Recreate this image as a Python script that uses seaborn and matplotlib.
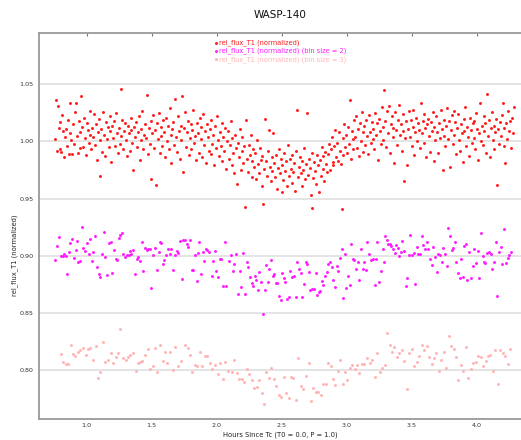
import pandas as pd
from matplotlib import pyplot as plt
import seaborn as sns

# rel_flux_T1 (normalized), one point per exposure
red_x = [
    0.756, 0.763, 0.770, 0.777, 0.784, 0.791, 0.798, 0.805, 0.812, 0.819,
    0.826, 0.833, 0.840, 0.847, 0.854, 0.861, 0.868, 0.875, 0.882, 0.889,
    0.896, 0.903, 0.910, 0.917, 0.924, 0.931, 0.938, 0.945, 0.952, 0.959,
    0.966, 0.973, 0.980, 0.987, 0.994, 1.001, 1.008, 1.015, 1.022, 1.029,
    1.036, 1.043, 1.050, 1.057, 1.064, 1.071, 1.078, 1.085, 1.092, 1.099,
    1.106, 1.113, 1.120, 1.127, 1.134, 1.141, 1.148, 1.155, 1.162, 1.169,
    1.176, 1.183, 1.190, 1.197, 1.204, 1.211, 1.218, 1.225, 1.232, 1.239,
    1.246, 1.253, 1.260, 1.267, 1.274, 1.281, 1.288, 1.295, 1.302, 1.309,
    1.316, 1.323, 1.330, 1.337, 1.344, 1.351, 1.358, 1.365, 1.372, 1.379,
    1.386, 1.393, 1.400, 1.407, 1.414, 1.421, 1.428, 1.435, 1.442, 1.449,
    1.456, 1.463, 1.470, 1.477, 1.484, 1.491, 1.498, 1.505, 1.512, 1.519,
    1.526, 1.533, 1.540, 1.547, 1.554, 1.561, 1.568, 1.575, 1.582, 1.589,
    1.596, 1.603, 1.610, 1.617, 1.624, 1.631, 1.638, 1.645, 1.652, 1.659,
    1.666, 1.673, 1.680, 1.687, 1.694, 1.701, 1.708, 1.715, 1.722, 1.729,
    1.736, 1.743, 1.750, 1.757, 1.764, 1.771, 1.778, 1.785, 1.792, 1.799,
    1.806, 1.813, 1.820, 1.827, 1.834, 1.841, 1.848, 1.855, 1.862, 1.869,
    1.876, 1.883, 1.890, 1.897, 1.904, 1.911, 1.918, 1.925, 1.932, 1.939,
    1.946, 1.953, 1.960, 1.967, 1.974, 1.981, 1.988, 1.995, 2.002, 2.009,
    2.016, 2.023, 2.030, 2.037, 2.044, 2.051, 2.058, 2.065, 2.072, 2.079,
    2.086, 2.093, 2.100, 2.107, 2.114, 2.121, 2.128, 2.135, 2.142, 2.149,
    2.156, 2.163, 2.170, 2.177, 2.184, 2.191, 2.198, 2.205, 2.212, 2.219,
    2.226, 2.233, 2.240, 2.247, 2.254, 2.261, 2.268, 2.275, 2.282, 2.289,
    2.296, 2.303, 2.310, 2.317, 2.324, 2.331, 2.338, 2.345, 2.352, 2.359,
    2.366, 2.373, 2.380, 2.387, 2.394, 2.401, 2.408, 2.415, 2.422, 2.429,
    2.436, 2.443, 2.450, 2.457, 2.464, 2.471, 2.478, 2.485, 2.492, 2.499,
    2.506, 2.513, 2.520, 2.527, 2.534, 2.541, 2.548, 2.555, 2.562, 2.569,
    2.576, 2.583, 2.590, 2.597, 2.604, 2.611, 2.618, 2.625, 2.632, 2.639,
    2.646, 2.653, 2.660, 2.667, 2.674, 2.681, 2.688, 2.695, 2.702, 2.709,
    2.716, 2.723, 2.730, 2.737, 2.744, 2.751, 2.758, 2.765, 2.772, 2.779,
    2.786, 2.793, 2.800, 2.807, 2.814, 2.821, 2.828, 2.835, 2.842, 2.849,
    2.856, 2.863, 2.870, 2.877, 2.884, 2.891, 2.898, 2.905, 2.912, 2.919,
    2.926, 2.933, 2.940, 2.947, 2.954, 2.961, 2.968, 2.975, 2.982, 2.989,
    2.996, 3.003, 3.010, 3.017, 3.024, 3.031, 3.038, 3.045, 3.052, 3.059,
    3.066, 3.073, 3.080, 3.087, 3.094, 3.101, 3.108, 3.115, 3.122, 3.129,
    3.136, 3.143, 3.150, 3.157, 3.164, 3.171, 3.178, 3.185, 3.192, 3.199,
    3.206, 3.213, 3.220, 3.227, 3.234, 3.241, 3.248, 3.255, 3.262, 3.269,
    3.276, 3.283, 3.290, 3.297, 3.304, 3.311, 3.318, 3.325, 3.332, 3.339,
    3.346, 3.353, 3.360, 3.367, 3.374, 3.381, 3.388, 3.395, 3.402, 3.409,
    3.416, 3.423, 3.430, 3.437, 3.444, 3.451, 3.458, 3.465, 3.472, 3.479,
    3.486, 3.493, 3.500, 3.507, 3.514, 3.521, 3.528, 3.535, 3.542, 3.549,
    3.556, 3.563, 3.570, 3.577, 3.584, 3.591, 3.598, 3.605, 3.612, 3.619,
    3.626, 3.633, 3.640, 3.647, 3.654, 3.661, 3.668, 3.675, 3.682, 3.689,
    3.696, 3.703, 3.710, 3.717, 3.724, 3.731, 3.738, 3.745, 3.752, 3.759,
    3.766, 3.773, 3.780, 3.787, 3.794, 3.801, 3.808, 3.815, 3.822, 3.829,
    3.836, 3.843, 3.850, 3.857, 3.864, 3.871, 3.878, 3.885, 3.892, 3.899,
    3.906, 3.913, 3.920, 3.927, 3.934, 3.941, 3.948, 3.955, 3.962, 3.969,
    3.976, 3.983, 3.990, 3.997, 4.004, 4.011, 4.018, 4.025, 4.032, 4.039,
    4.046, 4.053, 4.060, 4.067, 4.074, 4.081, 4.088, 4.095, 4.102, 4.109,
    4.116, 4.123, 4.130, 4.137, 4.144, 4.151, 4.158, 4.165, 4.172, 4.179,
    4.186, 4.193, 4.200, 4.207, 4.214, 4.221, 4.228, 4.235, 4.242, 4.249,
    4.256, 4.263, 4.270, 4.277, 4.284,
]
red_y = [
    1.002, 1.036, 0.992, 1.031, 1.012, 0.993, 1.017, 0.991, 1.023, 1.009,
    0.986, 1.004, 1.011, 0.996, 1.019, 0.989, 1.007, 1.034, 1.001, 0.989,
    1.015, 0.998, 1.026, 1.034, 1.005, 0.990, 1.018, 1.008, 0.994, 1.040,
    1.013, 0.995, 1.021, 1.003, 0.988, 1.016, 1.010, 0.999, 1.027, 1.006,
    0.993, 1.012, 1.004, 1.024, 0.997, 1.015, 0.984, 1.008, 1.020, 1.001,
    0.970, 1.011, 0.991, 1.026, 1.006, 0.987, 1.017, 1.002, 1.013, 0.995,
    1.022, 1.009, 0.982, 1.014, 1.003, 1.018, 0.996, 1.025, 1.007, 0.990,
    1.012, 0.998, 1.046, 1.005, 1.019, 0.993, 1.009, 1.016, 1.001, 0.987,
    1.014, 1.007, 0.992, 1.021, 1.010, 0.999, 0.975, 1.013, 1.004, 1.017,
    0.995, 1.008, 1.022, 0.984, 1.011, 1.001, 1.027, 0.993, 1.006, 1.015,
    1.003, 1.041, 0.989, 1.012, 0.998, 1.018, 0.967, 1.007, 1.023, 0.994,
    1.010, 0.962, 1.016, 1.002, 1.025, 0.990, 1.013, 1.005, 0.996, 1.019,
    1.008, 0.986, 1.021, 1.000, 1.014, 0.993, 1.029, 1.006, 0.981, 1.011,
    1.017, 0.997, 1.037, 1.004, 0.991, 1.022, 1.009, 0.985, 1.014, 1.001,
    1.040, 0.973, 1.012, 1.026, 0.995, 1.008, 1.018, 0.988, 1.003, 1.015,
    0.993, 1.010, 1.028, 0.999, 1.005, 0.984, 1.016, 1.007, 0.990, 1.021,
    1.002, 1.013, 0.986, 1.024, 0.997, 1.009, 0.981, 1.015, 1.004, 0.992,
    1.011, 0.989, 1.019, 0.998, 1.006, 0.979, 1.014, 0.994, 1.022, 1.001,
    0.987, 1.008, 0.996, 1.016, 0.983, 1.004, 0.992, 1.012, 0.976, 1.000,
    1.009, 0.985, 0.997, 1.018, 0.979, 1.003, 0.990, 0.972, 1.006, 0.994,
    0.963, 0.999, 0.986, 1.011, 0.975, 0.992, 1.004, 0.981, 0.996, 0.943,
    1.019, 0.985, 0.973, 0.997, 0.988, 1.006, 0.969, 0.983, 0.993, 0.978,
    0.990, 0.967, 1.001, 0.980, 0.972, 0.994, 0.984, 0.961, 0.987, 0.945,
    0.976, 1.020, 0.983, 0.970, 0.992, 1.010, 0.978, 0.965, 0.986, 0.974,
    1.007, 0.981, 0.969, 0.988, 0.958, 0.977, 0.993, 0.972, 0.985, 0.956,
    0.979, 0.966, 0.990, 0.974, 0.983, 0.961, 0.997, 0.970, 0.985, 0.976,
    0.964, 0.988, 0.973, 0.981, 0.957, 0.992, 1.028, 0.969, 0.978, 0.986,
    0.972, 0.961, 0.983, 0.975, 0.994, 0.967, 0.980, 1.025, 0.971, 0.985,
    0.977, 0.953, 0.990, 0.942, 0.968, 0.982, 0.974, 0.963, 0.988, 0.979,
    0.956, 0.984, 0.970, 0.995, 0.976, 0.987, 0.965, 0.991, 0.980, 0.973,
    0.989, 0.998, 0.975, 0.993, 1.004, 0.982, 0.979, 0.996, 1.010, 0.986,
    0.999, 0.983, 1.008, 0.992, 0.980, 0.941, 1.003, 0.988, 1.015, 0.995,
    1.006, 0.990, 1.013, 0.998, 1.036, 0.985, 1.009, 1.002, 0.993, 1.019,
    1.004, 1.022, 0.994, 1.011, 0.987, 1.016, 1.000, 1.026, 0.991, 1.008,
    1.014, 0.997, 1.019, 1.005, 0.989, 1.023, 1.008, 0.999, 1.017, 1.002,
    1.011, 0.993, 1.025, 1.006, 1.016, 0.984, 1.020, 1.009, 0.998, 1.030,
    1.013, 1.001, 1.045, 1.018, 0.995, 1.027, 1.007, 1.031, 0.990, 1.015,
    1.022, 1.004, 1.012, 0.981, 1.026, 1.010, 0.997, 1.019, 1.032, 1.006,
    1.015, 0.992, 1.009, 1.024, 0.965, 1.003, 1.018, 0.979, 1.011, 1.027,
    1.004, 1.019, 0.996, 1.013, 1.028, 0.988, 1.008, 1.021, 1.000, 1.016,
    1.010, 0.994, 1.034, 1.007, 1.018, 0.999, 1.024, 1.012, 0.986, 1.015,
    1.020, 1.005, 0.991, 1.017, 1.009, 1.026, 0.983, 1.013, 1.001, 1.022,
    1.008, 0.990, 1.016, 1.003, 1.028, 1.011, 0.975, 1.019, 1.005, 0.996,
    1.014, 1.029, 1.002, 1.018, 0.978, 1.010, 1.023, 0.998, 1.027, 1.006,
    1.017, 0.989, 1.012, 1.024, 1.001, 0.992, 1.015, 1.007, 0.982, 1.020,
    1.009, 1.030, 0.996, 1.013, 1.004, 0.987, 1.021, 1.010, 0.999, 1.016,
    1.003, 1.018, 0.993, 1.025, 1.011, 0.984, 1.007, 1.034, 1.000, 1.014,
    0.997, 1.022, 1.009, 1.016, 0.990, 1.042, 1.005, 1.019, 0.986, 1.012,
    1.026, 1.001, 1.014, 0.993, 1.008, 1.020, 0.962, 1.011, 0.998, 1.017,
    1.005, 1.023, 1.034, 0.996, 1.012, 0.981, 1.016, 1.002, 1.027, 1.009,
    1.018, 0.994, 1.021, 1.007, 1.030,
]

# bin size = 2 (shifted by -0.1 in the plot)
mag_x = [
    0.759, 0.772, 0.785, 0.800, 0.815, 0.826, 0.838, 0.846, 0.862, 0.874,
    0.890, 0.903, 0.915, 0.928, 0.936, 0.949, 0.962, 0.974, 0.990, 1.003,
    1.015, 1.028, 1.038, 1.051, 1.067, 1.079, 1.095, 1.103, 1.115, 1.131,
    1.144, 1.154, 1.169, 1.185, 1.197, 1.208, 1.223, 1.236, 1.249, 1.259,
    1.272, 1.282, 1.297, 1.308, 1.323, 1.336, 1.341, 1.359, 1.374, 1.385,
    1.397, 1.410, 1.423, 1.436, 1.449, 1.462, 1.472, 1.487, 1.497, 1.513,
    1.523, 1.538, 1.554, 1.562, 1.574, 1.585, 1.597, 1.610, 1.623, 1.638,
    1.651, 1.667, 1.679, 1.692, 1.705, 1.718, 1.731, 1.744, 1.756, 1.769,
    1.782, 1.792, 1.808, 1.815, 1.833, 1.846, 1.856, 1.867, 1.879, 1.892,
    1.905, 1.918, 1.928, 1.941, 1.962, 1.972, 1.987, 1.997, 2.010, 2.023,
    2.033, 2.049, 2.064, 2.074, 2.092, 2.110, 2.123, 2.136, 2.151, 2.167,
    2.179, 2.190, 2.203, 2.218, 2.231, 2.241, 2.254, 2.269, 2.279, 2.295,
    2.305, 2.318, 2.328, 2.341, 2.356, 2.369, 2.379, 2.392, 2.403, 2.418,
    2.431, 2.441, 2.454, 2.467, 2.477, 2.492, 2.505, 2.518, 2.528, 2.541,
    2.554, 2.561, 2.582, 2.595, 2.608, 2.620, 2.631, 2.646, 2.659, 2.672,
    2.684, 2.697, 2.713, 2.718, 2.731, 2.749, 2.761, 2.774, 2.784, 2.795,
    2.808, 2.820, 2.836, 2.849, 2.859, 2.872, 2.884, 2.897, 2.910, 2.923,
    2.936, 2.949, 2.961, 2.974, 2.987, 2.997, 3.010, 3.023, 3.036, 3.046,
    3.056, 3.072, 3.084, 3.097, 3.110, 3.123, 3.133, 3.149, 3.159, 3.174,
    3.187, 3.200, 3.215, 3.228, 3.236, 3.251, 3.264, 3.277, 3.290, 3.297,
    3.307, 3.320, 3.331, 3.343, 3.359, 3.372, 3.382, 3.395, 3.405, 3.418,
    3.428, 3.441, 3.454, 3.466, 3.477, 3.490, 3.502, 3.515, 3.528, 3.538,
    3.551, 3.564, 3.579, 3.590, 3.602, 3.615, 3.628, 3.641, 3.654, 3.666,
    3.679, 3.692, 3.705, 3.718, 3.731, 3.743, 3.756, 3.769, 3.782, 3.795,
    3.807, 3.818, 3.833, 3.843, 3.856, 3.869, 3.882, 3.892, 3.902, 3.915,
    3.928, 3.943, 3.956, 3.969, 3.982, 3.995, 4.007, 4.020, 4.033, 4.046,
    4.059, 4.066, 4.082, 4.095, 4.107, 4.120, 4.131, 4.146, 4.159, 4.172,
    4.184, 4.197, 4.210, 4.225, 4.238, 4.251, 4.261,
]
mag_y = [
    0.8960, 0.9087, 0.9166, 0.9000, 0.9000, 0.9015, 0.8994, 0.8842, 0.9029, 0.9108,
    0.9149, 0.8977, 0.9050, 0.9128, 0.8947, 0.8950, 0.9251, 0.9064, 0.9041, 0.9114,
    0.9015, 0.9146, 0.8950, 0.9029, 0.9175, 0.8901, 0.8839, 0.8816, 0.9018, 0.9210,
    0.8991, 0.8831, 0.9114, 0.9117, 0.8848, 0.9053, 0.8971, 0.8959, 0.9152, 0.9184,
    0.9201, 0.9018, 0.8988, 0.9009, 0.9009, 0.9041, 0.9018, 0.9047, 0.8836, 0.8971,
    0.8991, 0.8953, 0.9120, 0.8863, 0.9064, 0.9047, 0.9055, 0.9058, 0.8720, 0.9006,
    0.9064, 0.8872, 0.9035, 0.9120, 0.9108, 0.8927, 0.8965, 0.9009, 0.9058, 0.9015,
    0.9058, 0.8874, 0.9003, 0.9041, 0.9020, 0.9126, 0.8796, 0.9134, 0.9137, 0.9099,
    0.9079, 0.9134, 0.8874, 0.8874, 0.9006, 0.8775, 0.9020, 0.9123, 0.8842, 0.9032,
    0.8956, 0.9061, 0.9053, 0.9035, 0.8819, 0.8950, 0.9038, 0.8866, 0.8810, 0.8968,
    0.8971, 0.8734, 0.9117, 0.8734, 0.8950, 0.9003, 0.8863, 0.8930, 0.9018, 0.8661,
    0.8863, 0.8726, 0.9020, 0.8667, 0.8942, 0.8901, 0.8813, 0.8761, 0.8731, 0.8825,
    0.8784, 0.8699, 0.8857, 0.8766, 0.8489, 0.8696, 0.8921, 0.8772, 0.8886, 0.8962,
    0.8825, 0.8839, 0.8761, 0.8758, 0.8650, 0.8615, 0.8848, 0.8804, 0.8769, 0.8620,
    0.8635, 0.8869, 0.8816, 0.8822, 0.8638, 0.8942, 0.8886, 0.8848, 0.8638, 0.8755,
    0.8947, 0.8930, 0.8854, 0.8702, 0.8705, 0.8708, 0.8848, 0.8658, 0.8685, 0.8688,
    0.8778, 0.8740, 0.8822, 0.8857, 0.8930, 0.8942, 0.8901, 0.8787, 0.8726, 0.8912,
    0.8863, 0.8977, 0.9058, 0.8626, 0.9015, 0.8714, 0.8822, 0.8743, 0.9099, 0.8974,
    0.8962, 0.8880, 0.8942, 0.8790, 0.9055, 0.8880, 0.8942, 0.8877, 0.9123, 0.9015,
    0.8965, 0.8971, 0.8743, 0.8971, 0.9120, 0.8772, 0.8869, 0.9061, 0.8942, 0.9175,
    0.9137, 0.9105, 0.9099, 0.9088, 0.9058, 0.9023, 0.9093, 0.9067, 0.8994, 0.9035,
    0.9128, 0.9041, 0.8731, 0.8801, 0.9006, 0.9184, 0.9009, 0.9026, 0.8749, 0.9079,
    0.9018, 0.9012, 0.9175, 0.9091, 0.9055, 0.9123, 0.9061, 0.8974, 0.8915, 0.9076,
    0.8988, 0.8860, 0.9018, 0.9009, 0.8947, 0.9064, 0.9012, 0.8909, 0.9239, 0.9172,
    0.9053, 0.9070, 0.9120, 0.8947, 0.8848, 0.8804, 0.8974, 0.8810, 0.9085, 0.9099,
    0.8787, 0.9029, 0.8807, 0.8907, 0.9058, 0.8936, 0.9044, 0.8804, 0.9199, 0.8994,
    0.8942, 0.8939, 0.9023, 0.9035, 0.9018, 0.8886, 0.8942, 0.9120, 0.8644, 0.9035,
    0.9079, 0.8930, 0.9234, 0.8933, 0.8982, 0.9009, 0.9032,
]

# bin size = 3 (shifted by -0.2 in the plot)
pink_x = [
    0.803, 0.821, 0.838, 0.856, 0.879, 0.895, 0.913, 0.933, 0.951, 0.969,
    0.995, 1.013, 1.028, 1.046, 1.069, 1.090, 1.105, 1.123, 1.144, 1.167,
    1.187, 1.205, 1.223, 1.241, 1.259, 1.282, 1.303, 1.321, 1.336, 1.354,
    1.377, 1.395, 1.410, 1.428, 1.451, 1.469, 1.487, 1.510, 1.528, 1.544,
    1.564, 1.587, 1.605, 1.620, 1.644, 1.664, 1.682, 1.700, 1.723, 1.759,
    1.779, 1.795, 1.813, 1.833, 1.851, 1.872, 1.890, 1.908, 1.926, 1.946,
    1.967, 1.985, 2.010, 2.028, 2.046, 2.067, 2.085, 2.115, 2.133, 2.154,
    2.174, 2.195, 2.213, 2.231, 2.249, 2.269, 2.290, 2.308, 2.328, 2.346,
    2.364, 2.382, 2.400, 2.420, 2.441, 2.459, 2.477, 2.497, 2.515, 2.536,
    2.554, 2.572, 2.590, 2.610, 2.628, 2.646, 2.667, 2.687, 2.708, 2.726,
    2.744, 2.764, 2.782, 2.800, 2.818, 2.838, 2.859, 2.877, 2.895, 2.913,
    2.933, 2.951, 2.969, 2.987, 3.005, 3.026, 3.044, 3.062, 3.079, 3.097,
    3.115, 3.136, 3.154, 3.177, 3.197, 3.215, 3.233, 3.256, 3.274, 3.292,
    3.313, 3.331, 3.349, 3.367, 3.385, 3.405, 3.423, 3.441, 3.464, 3.482,
    3.500, 3.520, 3.538, 3.556, 3.577, 3.592, 3.615, 3.633, 3.654, 3.672,
    3.690, 3.708, 3.728, 3.749, 3.767, 3.785, 3.803, 3.823, 3.841, 3.859,
    3.879, 3.897, 3.918, 3.936, 3.954, 3.974, 3.995, 4.013, 4.031, 4.046,
    4.069, 4.090, 4.105, 4.123, 4.143, 4.164, 4.179, 4.200, 4.220, 4.241,
    4.259,
]
pink_y = [
    0.814, 0.807, 0.805, 0.805, 0.822, 0.814, 0.812, 0.816, 0.8175, 0.819,
    0.813, 0.818, 0.819, 0.809, 0.821, 0.793, 0.798, 0.824, 0.807, 0.809,
    0.815, 0.806, 0.811, 0.815, 0.836, 0.810, 0.809, 0.811, 0.813, 0.815,
    0.799, 0.806, 0.807, 0.808, 0.813, 0.818, 0.801, 0.803, 0.819, 0.798,
    0.822, 0.808, 0.816, 0.806, 0.816, 0.800, 0.820, 0.803, 0.808, 0.822,
    0.819, 0.813, 0.798, 0.804, 0.803, 0.816, 0.8035, 0.812, 0.812, 0.806,
    0.801, 0.804, 0.796, 0.806, 0.792, 0.807, 0.799, 0.7985, 0.809, 0.797,
    0.792, 0.792, 0.789, 0.801, 0.796, 0.791, 0.784, 0.785, 0.791, 0.780,
    0.770, 0.7985, 0.793, 0.802, 0.792, 0.786, 0.778, 0.776, 0.794, 0.780,
    0.775, 0.794, 0.793, 0.774, 0.810, 0.786, 0.783, 0.7945, 0.806, 0.773,
    0.784, 0.781, 0.7805, 0.778, 0.788, 0.788, 0.806, 0.803, 0.792, 0.787,
    0.799, 0.809, 0.7875, 0.798, 0.791, 0.802, 0.804, 0.801, 0.804, 0.797,
    0.805, 0.805, 0.8105, 0.806, 0.809, 0.794, 0.8145, 0.798, 0.802, 0.804,
    0.832, 0.822, 0.816, 0.820, 0.811, 0.815, 0.817, 0.808, 0.783, 0.815,
    0.818, 0.803, 0.807, 0.812, 0.8215, 0.817, 0.821, 0.811, 0.805, 0.810,
    0.815, 0.799, 0.809, 0.816, 0.802, 0.830, 0.821, 0.818, 0.811, 0.791,
    0.804, 0.799, 0.820, 0.793, 0.801, 0.806, 0.807, 0.812, 0.811, 0.803,
    0.808, 0.812, 0.813, 0.799, 0.817, 0.788, 0.817, 0.8145, 0.812, 0.805,
    0.818,
]

labels = ['rel_flux_T1 (normalized)',
          'rel_flux_T1 (normalized) (bin size = 2)',
          'rel_flux_T1 (normalized) (bin size = 3)']
colors = ['#ff1a1a', '#ff1aff', '#ffb4b4']

sns.set_style('white')
plt.rcParams['font.family'] = ['DejaVu Sans']

fig = plt.figure(figsize=(5.21, 4.40), dpi=100)
ax = fig.add_axes([39 / 521, 21 / 440, 1 - 39 / 521, 386 / 440])

for xs, ys, lab, c in zip([red_x, mag_x, pink_x], [red_y, mag_y, pink_y], labels, colors):
    sns.scatterplot(x=xs, y=ys, ax=ax, color=c, s=4.5, linewidth=0, label=lab)

ax.set_xlim(0.633, 4.341)
ax.set_ylim(0.757, 1.095)
ax.set_yticks([0.80, 0.85, 0.90, 0.95, 1.00, 1.05])
ax.set_yticklabels(['0.80', '0.85', '0.90', '0.95', '1.00', '1.05'])
ax.set_xticks([1.0, 1.5, 2.0, 2.5, 3.0, 3.5, 4.0])
ax.set_xticklabels(['1.0', '1.5', '2.0', '2.5', '3.0', '3.5', '4.0'])

ax.yaxis.grid(True, color='#e2e2e2', linewidth=1.3)
ax.xaxis.grid(False)
ax.set_axisbelow(True)

for side in ['left', 'bottom', 'top']:
    ax.spines[side].set_color('#9a9a9a')
    ax.spines[side].set_linewidth(1.3)
ax.spines['right'].set_visible(False)

ax.tick_params(axis='x', direction='in', length=2, width=0.8, color='#777777',
               top=True, labelsize=4.6, labelcolor='#333333', pad=3)
ax.tick_params(axis='y', direction='out', length=0, labelsize=4.6,
               labelcolor='#333333', pad=4)

ax.set_title('WASP-140', fontsize=7.5, pad=11, color='#111111')
ax.set_xlabel('Hours Since Tc (T0 = 0.0, P = 1.0)', fontsize=4.9, color='#222222')
ax.set_ylabel('rel_flux_T1 (normalized)', fontsize=4.9, color='#222222')
ax.xaxis.set_label_coords(0.5, -0.032)
ax.yaxis.set_label_coords(-0.043, 0.425)

leg = ax.legend(loc='upper center', bbox_to_anchor=(0.5, 0.995), frameon=False,
                fontsize=4.8, handletextpad=0.1, handlelength=0.6,
                labelspacing=0.2, borderpad=0.2, labelcolor=colors)

fig.savefig('out.png', dpi=100)
